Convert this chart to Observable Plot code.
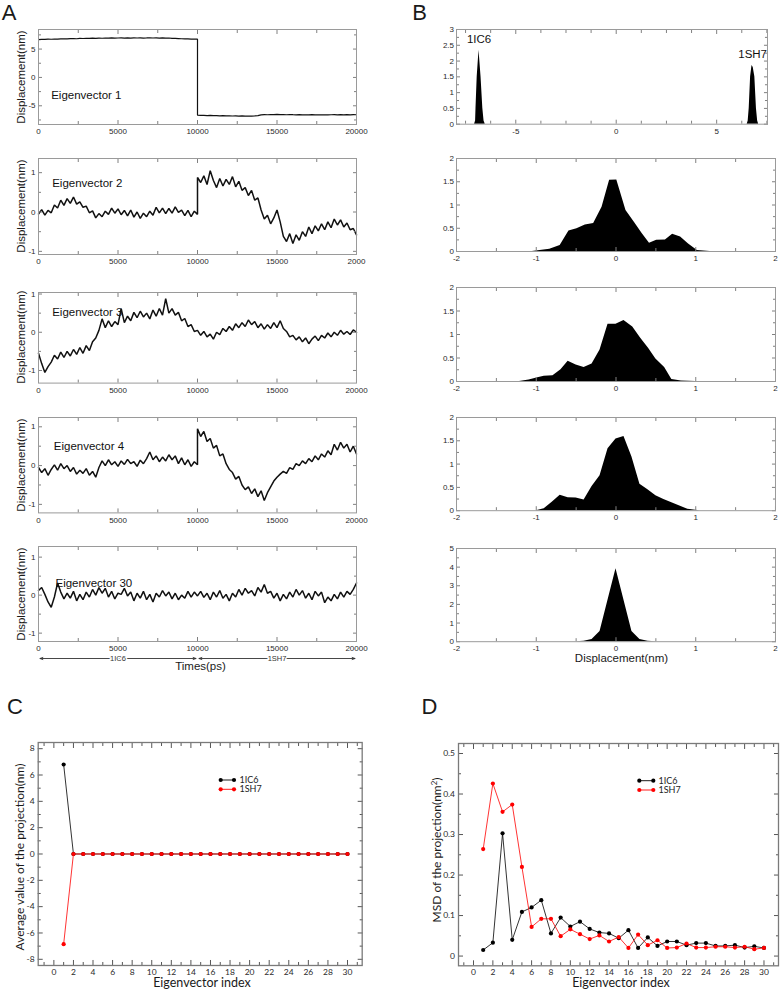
<!DOCTYPE html>
<html><head><meta charset="utf-8">
<script src="https://cdn.jsdelivr.net/npm/d3@7"></script>
<script src="https://cdn.jsdelivr.net/npm/@observablehq/plot@0.6"></script>
<style>
html,body{margin:0;padding:0;background:#fff;}
#fig{position:relative;width:781px;height:992px;overflow:hidden;background:#fff;font-family:"Liberation Sans",Arial,sans-serif;color:#1a1a1a;}
.lbl{position:absolute;white-space:nowrap;line-height:1;}
</style></head><body><div id="fig"></div>
<script>
// ---------------- DATA ----------------
// Panel A: projections on eigenvectors, sampled every 200 ps (first half 0-10000 ps = 1IC6, second half 10000-20000 ps = 1SH7)
const timesFirst = d3.range(0, 10001, 200);
const timesSecond = d3.range(10000, 20001, 200);
const eigenNames = ["Eigenvector 1", "Eigenvector 2", "Eigenvector 3", "Eigenvector 4", "Eigenvector 30"];

const ev1First = [6.68,6.72,6.70,6.74,6.73,6.77,6.76,6.80,6.82,6.79,
 6.83,6.85,6.82,6.87,6.86,6.90,6.88,6.92,6.90,6.94,
 6.91,6.95,6.93,6.96,6.92,6.95,6.97,6.93,6.96,6.94,
 6.98,6.95,6.97,6.94,6.96,6.99,6.95,6.97,6.94,6.96,
 6.93,6.95,6.90,6.88,6.85,6.82,6.80,6.78,6.76,6.77,
 6.75];
const ev1Second = [-6.66,-6.70,-6.68,-6.72,-6.70,-6.75,-6.72,-6.77,-6.74,-6.78,
 -6.76,-6.80,-6.77,-6.82,-6.79,-6.84,-6.80,-6.83,-6.78,-6.72,
 -6.60,-6.55,-6.58,-6.54,-6.57,-6.53,-6.56,-6.55,-6.58,-6.54,
 -6.57,-6.59,-6.56,-6.60,-6.58,-6.61,-6.57,-6.60,-6.58,-6.62,
 -6.59,-6.61,-6.58,-6.56,-6.59,-6.57,-6.60,-6.56,-6.59,-6.55,
 -6.58];
const ev2First = [-0.05,0.06,-0.08,0.04,-0.02,0.18,0.10,0.30,0.17,0.34,
 0.22,0.38,0.20,0.26,0.12,0.15,-0.02,0.03,-0.15,-0.04,
 -0.12,0.02,-0.06,0.10,-0.03,0.08,-0.07,0.04,-0.10,0.05,
 -0.13,0.00,-0.16,-0.03,-0.12,0.02,-0.08,0.12,-0.02,0.10,
 -0.04,0.09,-0.03,0.13,-0.01,0.05,-0.09,0.04,-0.12,0.02,
 -0.06];
const ev2Second = [0.88,0.75,0.92,0.70,1.05,0.80,0.62,0.85,0.66,0.83,
 0.70,0.90,0.64,0.78,0.55,0.62,0.42,0.55,0.30,0.36,
 0.05,-0.18,-0.08,-0.30,-0.15,0.05,-0.25,-0.62,-0.75,-0.55,
 -0.80,-0.58,-0.72,-0.50,-0.62,-0.38,-0.55,-0.35,-0.48,-0.30,
 -0.45,-0.25,-0.40,-0.18,-0.33,-0.20,-0.38,-0.28,-0.45,-0.42,
 -0.58];
const ev3First = [-0.55,-0.82,-1.05,-0.90,-0.78,-0.60,-0.70,-0.52,-0.66,-0.50,
 -0.62,-0.45,-0.58,-0.40,-0.55,-0.35,-0.48,-0.25,-0.15,0.05,
 0.35,0.12,0.30,0.15,0.28,0.20,0.62,0.25,0.42,0.30,
 0.52,0.38,0.55,0.40,0.50,0.35,0.58,0.42,0.62,0.45,
 0.88,0.50,0.62,0.45,0.52,0.30,0.36,0.15,0.20,0.02,
 0.05];
const ev3Second = [0.05,-0.08,0.02,-0.12,-0.05,-0.18,0.00,-0.06,0.10,0.02,
 0.15,0.05,0.22,0.12,0.25,0.15,0.32,0.20,0.28,0.12,
 0.22,0.08,0.20,0.10,0.25,0.12,0.30,0.10,0.02,-0.12,
 -0.08,-0.20,-0.12,-0.25,-0.15,-0.30,-0.18,-0.10,-0.22,-0.08,
 -0.15,-0.02,-0.12,0.00,-0.08,0.05,-0.05,0.02,-0.06,0.06,
 0.00];
const ev4First = [-0.05,-0.18,-0.08,-0.25,-0.10,0.02,-0.12,0.05,-0.08,0.00,
 -0.15,-0.05,-0.22,-0.12,-0.20,-0.08,-0.25,-0.15,-0.30,-0.05,
 0.12,0.00,0.15,0.02,0.10,-0.02,0.12,0.03,0.16,0.05,
 0.10,-0.02,0.14,0.05,0.18,0.35,0.15,0.25,0.10,0.22,
 0.12,0.28,0.15,0.25,0.05,0.20,0.02,0.15,-0.02,0.10,
 0.02];
const ev4Second = [0.95,0.75,0.88,0.62,0.70,0.45,0.52,0.25,0.30,0.05,
 -0.10,-0.18,-0.35,-0.28,-0.50,-0.62,-0.55,-0.72,-0.60,-0.80,
 -0.65,-0.90,-0.70,-0.55,-0.40,-0.30,-0.22,-0.15,-0.20,-0.05,
 -0.10,0.05,0.00,0.12,0.05,0.18,0.10,0.25,0.15,0.30,
 0.22,0.38,0.28,0.55,0.40,0.60,0.45,0.55,0.35,0.50,
 0.30];
const ev30First = [0.12,0.20,0.02,-0.18,-0.32,-0.05,0.32,0.08,-0.10,0.05,
 -0.08,0.10,-0.15,0.02,-0.12,0.08,-0.05,0.15,0.00,0.20,
 0.05,0.18,-0.05,0.10,-0.10,0.05,0.02,0.18,-0.02,0.08,
 -0.15,0.05,-0.08,0.10,-0.12,0.02,-0.18,0.05,-0.05,0.12,
 -0.02,0.08,-0.10,0.05,-0.12,0.00,-0.08,0.10,-0.05,0.08,
 -0.02];
const ev30Second = [-0.02,0.10,-0.06,0.05,-0.12,0.08,-0.05,0.12,-0.08,0.02,
 -0.15,0.05,-0.05,0.15,0.00,0.18,0.05,0.12,-0.02,0.20,
 0.08,0.28,0.05,0.10,-0.08,0.05,-0.15,0.02,-0.10,0.08,
 -0.05,0.15,0.00,0.12,-0.08,0.05,-0.12,0.10,-0.02,0.08,
 -0.20,-0.05,-0.15,0.02,-0.10,0.08,-0.05,0.10,0.02,0.15,
 0.32];

// Panel B: probability distributions of the projections
const hist1X = [-7.05,-7.0,-6.98,-6.92,-6.83,-6.73,-6.64,-6.58,-6.52, 6.52,6.57,6.62,6.69,6.76,6.82,6.9,6.98,7.04,7.09];
const hist1Y = [0,0.1,0.5,1.5,2.34,1.5,0.5,0.1,0, 0,0.1,0.5,1.5,1.86,1.8,1.5,0.5,0.1,0];
const hist2X = [-1.05,-0.83,-0.70,-0.59,-0.49,-0.385,-0.28,-0.175,-0.08,0.01,0.125,0.23,0.33,0.42,0.51,0.62,0.71,0.81,0.91,1.02,1.18];
const hist2Y = [0,0.05,0.13,0.44,0.49,0.57,0.6,0.95,1.53,1.54,0.88,0.63,0.38,0.18,0.24,0.25,0.37,0.31,0.16,0.02,0];
const hist3X = [-1.21,-1.09,-0.98,-0.90,-0.79,-0.69,-0.60,-0.50,-0.40,-0.30,-0.20,-0.10,0.0,0.10,0.21,0.31,0.41,0.50,0.61,0.70,0.82,1.0];
const hist3Y = [0,0.03,0.08,0.11,0.12,0.25,0.43,0.35,0.30,0.37,0.67,1.22,1.22,1.30,1.16,0.92,0.70,0.48,0.30,0.04,0.01,0];
const hist4X = [-1.0,-0.9,-0.8,-0.7,-0.6,-0.5,-0.4,-0.3,-0.2,-0.1,0,0.1,0.2,0.3,0.4,0.5,0.6,0.7,0.8,0.9,1.05];
const hist4Y = [0,0.04,0.18,0.33,0.28,0.27,0.23,0.52,0.75,1.33,1.54,1.59,1.15,0.57,0.45,0.32,0.24,0.17,0.10,0.03,0];
const hist30X = [-0.5,-0.4,-0.3,-0.2,0.0,0.2,0.3,0.4,0.5];
const hist30Y = [0,0.03,0.12,0.55,3.92,0.55,0.12,0.03,0];
const peakNames = ["1IC6", "1SH7"];
const peakX = [-6.83, 6.79];
const peakY = [2.34, 1.86];

// Panels C & D
const eigIndex = [1,2,3,4,5,6,7,8,9,10,11,12,13,14,15,16,17,18,19,20,21,22,23,24,25,26,27,28,29,30];
const seriesNames = ["1IC6", "1SH7"];
const seriesColors = ["#000000", "#ff0000"];
const avg1IC6 = [6.8,0,0,0,0,0,0,0,0,0,0,0,0,0,0,0,0,0,0,0,0,0,0,0,0,0,0,0,0,0];
const avg1SH7 = [-6.85,0,0,0,0,0,0,0,0,0,0,0,0,0,0,0,0,0,0,0,0,0,0,0,0,0,0,0,0,0];
const msd1IC6 = [0.015,0.033,0.303,0.04,0.109,0.12,0.138,0.056,0.095,0.073,0.085,0.067,0.058,0.056,0.044,0.064,0.02,0.046,0.025,0.036,0.036,0.027,0.032,0.032,0.025,0.025,0.027,0.021,0.024,0.02];
const msd1SH7 = [0.264,0.426,0.356,0.374,0.22,0.072,0.092,0.092,0.049,0.066,0.054,0.042,0.051,0.036,0.047,0.02,0.053,0.027,0.039,0.02,0.021,0.031,0.021,0.021,0.023,0.023,0.021,0.023,0.017,0.02];

// Tick values / labels
const timeMajor = [0, 5000, 10000, 15000, 20000];
const timeMinor = [2500, 7500, 12500, 17500];
const timeLabels = ["0", "5000", "10000", "15000", "20000"];
const timeLabelsClipped = ["0", "5000", "10000", "15000", "2000"];
const ev1Major = [-5, 0, 5];
const ev1Minor = [-7.5, -2.5, 2.5, 7.5];
const dispMajor = [-1, 0, 1];
const dispMinor = [-0.5, 0.5];
const b1XMajor = [-5, 0, 5];
const b1XMinor = [-7.5, -6.25, -3.75, -2.5, -1.25, 1.25, 2.5, 3.75, 6.25, 7.5];
const b1YMajor = [0, 0.5, 1, 1.5, 2, 2.5, 3];
const b1YMinor = [0.25, 0.75, 1.25, 1.75, 2.25, 2.75];
const bXMajor = [-2, -1, 0, 1, 2];
const bXMinor = [-1.5, -0.5, 0.5, 1.5];
const bYMajor = [0, 0.5, 1, 1.5, 2];
const bYMinor = [0.25, 0.75, 1.25, 1.75];
const b30YMajor = [0, 1, 2, 3, 4, 5];
const b30YMinor = [0.5, 1.5, 2.5, 3.5, 4.5];
const idxMajor = [0,2,4,6,8,10,12,14,16,18,20,22,24,26,28,30];
const idxMinor = [-1,1,3,5,7,9,11,13,15,17,19,21,23,25,27,29,31];
const cYMajor = [-8,-6,-4,-2,0,2,4,6,8];
const cYMinor = [-7,-5,-3,-1,1,3,5,7];
const dYMajor = [0, 0.1, 0.2, 0.3, 0.4, 0.5];
const dYMinor = [0.05, 0.15, 0.25, 0.35, 0.45];
const arrowSpans = [{name: "1IC6", start: 0, end: 10000}, {name: "1SH7", start: 10000, end: 20000}];

// ---------------- HELPERS ----------------
const fig = document.getElementById("fig");
const FONT_A = '"Liberation Sans", Arial, sans-serif';
const FONT_C = 'Lato, "Open Sans", sans-serif';
const blank = () => "";
const plain = d => String(d);

function label(html, x, y, size, opts = {}) {
  const d = document.createElement("div");
  d.className = "lbl";
  d.innerHTML = html;
  d.style.fontSize = size + "px";
  d.style.left = x + "px";
  d.style.top = y + "px";
  d.style.fontFamily = opts.family || FONT_A;
  d.style.color = opts.color || "#1a1a1a";
  d.style.transform = "translate(-50%,-50%)" + (opts.rotate ? ` rotate(${opts.rotate}deg)` : "");
  fig.appendChild(d);
}

function frameAxes({xMajor, xMinor, yMajor, yMinor, xLabels = xMajor, yLabels = yMajor, xFmt = plain, yFmt = plain, tickColor, major, minor, padX, padY}) {
  const t = {tickFormat: blank, label: null, stroke: tickColor};
  const marks = [
    Plot.axisX(xLabels, {anchor: "bottom", tickSize: 0, tickPadding: padX, tickFormat: xFmt, label: null}),
    Plot.axisY(yLabels, {anchor: "left", tickSize: 0, tickPadding: padY, tickFormat: yFmt, label: null})
  ];
  for (const anchor of ["bottom", "top"]) {
    marks.push(Plot.axisX(xMajor, {anchor, tickSize: -major, ...t}));
    if (xMinor.length) marks.push(Plot.axisX(xMinor, {anchor, tickSize: -minor, ...t}));
  }
  for (const anchor of ["left", "right"]) {
    marks.push(Plot.axisY(yMajor, {anchor, tickSize: -major, ...t}));
    if (yMinor.length) marks.push(Plot.axisY(yMinor, {anchor, tickSize: -minor, ...t}));
  }
  return marks;
}

function makePanel({frame, xDomain, yDomain, marks, axes, fontFamily, fontSize, frameStroke, frameWidth = 1, mL = 40, mR = 14, mT = 8, mB = 24}) {
  const [fl, ft, fw, fh] = frame;
  const svg = Plot.plot({
    width: fw + mL + mR, height: fh + mT + mB,
    marginLeft: mL, marginRight: mR, marginTop: mT, marginBottom: mB,
    x: {domain: xDomain}, y: {domain: yDomain},
    style: {fontFamily, fontSize: fontSize + "px", color: "#2a2a2a", background: "transparent", overflow: "visible"},
    marks: [...marks, ...axes, Plot.frame({stroke: frameStroke, strokeWidth: frameWidth})]
  });
  Object.assign(svg.style, {position: "absolute", left: (fl - mL) + "px", top: (ft - mT) + "px"});
  fig.appendChild(svg);
  return svg;
}

function traceRows(first, second) {
  return timesFirst.map((t, i) => ({t, v: first[i]})).concat(timesSecond.map((t, i) => ({t, v: second[i]})));
}
function xyRows(xs, ys) { return xs.map((x, i) => ({x, y: ys[i]})); }

// ---------------- PANEL A ----------------
const aLayout = [
  {first: ev1First, second: ev1Second, frame: [38, 29.3, 318, 95], y: [-8.3, 8.45], yMajor: ev1Major, yMinor: ev1Minor, lx: 12.7, ly: 66, tl: timeLabels},
  {first: ev2First, second: ev2Second, frame: [38, 158.3, 318, 96], y: [-1.08, 1.36], yMajor: dispMajor, yMinor: dispMinor, lx: 13.7, ly: 24.5, tl: timeLabelsClipped},
  {first: ev3First, second: ev3Second, frame: [38, 291.7, 318, 90.6], y: [-1.33, 1.04], yMajor: dispMajor, yMinor: dispMinor, lx: 13.7, ly: 20, tl: timeLabels},
  {first: ev4First, second: ev4Second, frame: [38, 416.9, 318, 95.4], y: [-1.22, 1.24], yMajor: dispMajor, yMinor: dispMinor, lx: 15.3, ly: 29, tl: timeLabels},
  {first: ev30First, second: ev30Second, frame: [38, 546, 318, 95], y: [-1.22, 1.28], yMajor: dispMajor, yMinor: dispMinor, lx: 17, ly: 36.7, tl: timeLabels}
];
aLayout.forEach((p, k) => {
  const rows = traceRows(p.first, p.second);
  makePanel({
    frame: p.frame, xDomain: [0, 20000], yDomain: p.y,
    fontFamily: FONT_A, fontSize: 8, frameStroke: "#9a9a9a", frameWidth: 1,
    mL: 38, mR: 24,
    marks: [
      Plot.line(rows, {x: "t", y: "v", stroke: "#111", strokeWidth: k === 0 ? 1.2 : 1.5, strokeLinejoin: "miter"}),
      Plot.text([eigenNames[k]], {frameAnchor: "top-left", dx: p.lx, dy: p.ly, text: d => d, textAnchor: "start", lineAnchor: "middle", fontSize: 11.5, fill: "#111"})
    ],
    axes: frameAxes({xMajor: timeMajor, xMinor: timeMinor, yMajor: p.yMajor, yMinor: p.yMinor,
      xFmt: d => p.tl[timeMajor.indexOf(d)], tickColor: "#808080", major: 4, minor: 3, padX: 4, padY: 3})
  });
  label("Displacement(nm)", 22, p.frame[1] + p.frame[3] / 2, 11.5, {rotate: -90});
});

// arrows under the time axis
(function () {
  const svg = Plot.plot({
    width: 318 + 38 + 24, height: 14, marginLeft: 38, marginRight: 24, marginTop: 2, marginBottom: 2,
    x: {domain: [0, 20000], axis: null}, y: {domain: [-1, 1], axis: null},
    style: {fontFamily: FONT_A, fontSize: "7.5px", background: "transparent", overflow: "visible"},
    marks: [
      Plot.arrow(arrowSpans, {x1: d => (d.start + d.end) / 2, x2: "start", y1: 0, y2: 0, stroke: "#333", strokeWidth: 0.9, headLength: 5, headAngle: 40, insetEnd: 1.5}),
      Plot.arrow(arrowSpans, {x1: d => (d.start + d.end) / 2, x2: "end", y1: 0, y2: 0, stroke: "#333", strokeWidth: 0.9, headLength: 5, headAngle: 40, insetEnd: 1.5}),
      Plot.text(arrowSpans, {x: d => (d.start + d.end) / 2, y: 0, text: "name", fill: "#333", stroke: "white", strokeWidth: 3, paintOrder: "stroke"})
    ]
  });
  Object.assign(svg.style, {position: "absolute", left: "0px", top: "651px"});
  fig.appendChild(svg);
})();
label("Times(ps)", 200.5, 667, 11.5);

// ---------------- PANEL B ----------------
const bLayout = [
  {xs: hist1X, ys: hist1Y, frame: [456, 29.3, 311, 94.7], x: [-7.95, 7.53], y: [0, 3], xMajor: b1XMajor, xMinor: b1XMinor, yMajor: b1YMajor, yMinor: b1YMinor, peaks: true},
  {xs: hist2X, ys: hist2Y, frame: [456, 158.3, 319, 93], x: [-2, 2], y: [0, 2], xMajor: bXMajor, xMinor: bXMinor, yMajor: bYMajor, yMinor: bYMinor},
  {xs: hist3X, ys: hist3Y, frame: [456, 286.7, 319, 94], x: [-2, 2], y: [0, 2], xMajor: bXMajor, xMinor: bXMinor, yMajor: bYMajor, yMinor: bYMinor},
  {xs: hist4X, ys: hist4Y, frame: [456, 416.9, 319, 93.2], x: [-2, 2], y: [0, 2], xMajor: bXMajor, xMinor: bXMinor, yMajor: bYMajor, yMinor: bYMinor},
  {xs: hist30X, ys: hist30Y, frame: [456, 548.3, 319, 93.2], x: [-2, 2], y: [0, 5], xMajor: bXMajor, xMinor: bXMinor, yMajor: b30YMajor, yMinor: b30YMinor}
];
bLayout.forEach(p => {
  const rows = xyRows(p.xs, p.ys);
  const marks = [Plot.areaY(rows, {x: "x", y: "y", fill: "#000"})];
  if (p.peaks) {
    const pk = peakNames.map((name, i) => ({name, x: peakX[i], y: peakY[i]}));
    marks.push(Plot.text(pk, {x: "x", y: "y", text: "name", dy: -7, lineAnchor: "bottom", fontSize: 11.5, fill: "#111"}));
  }
  makePanel({
    frame: p.frame, xDomain: p.x, yDomain: p.y,
    fontFamily: FONT_A, fontSize: 8, frameStroke: "#9a9a9a", frameWidth: 1,
    mL: 40, mR: 10,
    marks,
    axes: frameAxes({xMajor: p.xMajor, xMinor: p.xMinor, yMajor: p.yMajor, yMinor: p.yMinor,
      tickColor: "#808080", major: 4, minor: 3, padX: 4, padY: 2.5})
  });
});
label("Displacement(nm)", 621.5, 659, 11.5);

// ---------------- PANELS C & D ----------------
function seriesRows(vals) { return eigIndex.map((i, k) => ({i, v: vals[k]})); }
function cdMarks(a, b) {
  const ra = seriesRows(a), rb = seriesRows(b);
  return [
    Plot.line(ra, {x: "i", y: "v", stroke: seriesColors[0], strokeWidth: 0.8}),
    Plot.dot(ra, {x: "i", y: "v", fill: seriesColors[0], r: 2.1}),
    Plot.line(rb, {x: "i", y: "v", stroke: seriesColors[1], strokeWidth: 0.8}),
    Plot.dot(rb, {x: "i", y: "v", fill: seriesColors[1], r: 2.1})
  ];
}
makePanel({
  frame: [37.7, 742, 324, 223], xDomain: [-1.6, 31.5], yDomain: [-8.47, 8.47],
  fontFamily: FONT_C, fontSize: 8.5, frameStroke: "#7a7a7a", frameWidth: 1.3, mL: 37.7, mR: 12,
  marks: cdMarks(avg1IC6, avg1SH7),
  axes: frameAxes({xMajor: idxMajor, xMinor: idxMinor, yMajor: cYMajor, yMinor: cYMinor,
    tickColor: "#555", major: 5, minor: 3, padX: 3, padY: 3.5})
});
makePanel({
  frame: [458.3, 742.7, 320, 222.3], xDomain: [-1.55, 31.5], yDomain: [-0.024, 0.5247],
  fontFamily: FONT_C, fontSize: 8.5, frameStroke: "#7a7a7a", frameWidth: 1.3, mL: 40, mR: 2,
  marks: cdMarks(msd1IC6, msd1SH7),
  axes: frameAxes({xMajor: idxMajor, xMinor: idxMinor, yMajor: dYMajor, yMinor: dYMinor,
    tickColor: "#555", major: 5, minor: 3, padX: 3, padY: 3.5})
});

// legends for C and D
(function () {
  const svg = d3.create("svg").attr("width", 781).attr("height", 992)
    .style("position", "absolute").style("left", "0px").style("top", "0px").style("overflow", "visible");
  const spots = [[220.7, 234, 780, 239.5], [639.3, 653.3, 780.7, 658.5]];
  spots.forEach(([x1, x2, y0, tx]) => {
    seriesNames.forEach((name, k) => {
      const y = y0 + k * 9.3;
      svg.append("line").attr("x1", x1).attr("x2", x2).attr("y1", y).attr("y2", y)
        .attr("stroke", seriesColors[k]).attr("stroke-width", 0.9);
      [x1, x2].forEach(x => svg.append("circle").attr("cx", x).attr("cy", y).attr("r", 2.1).attr("fill", seriesColors[k]));
      svg.append("text").attr("x", tx).attr("y", y).attr("dy", "0.35em")
        .attr("font-family", FONT_C).attr("font-size", 9).attr("fill", "#222").text(name);
    });
  });
  fig.appendChild(svg.node());
})();

label("Average value of the projection(nm)", 20, 857, 12, {rotate: -90, family: FONT_C});
label("Eigenvector index", 202, 983, 12.5, {family: FONT_C});
label("MSD of the projection(nm<sup style=\"font-size:0.65em;vertical-align:0.55em;line-height:0\">2</sup>)", 437, 850, 12, {rotate: -90, family: FONT_C});
label("Eigenvector index", 621, 983, 12.5, {family: FONT_C});

// panel letters
label("A", 9, 12.5, 22);
label("B", 419.5, 12.5, 22);
label("C", 15, 707, 22);
label("D", 429.5, 707, 22);
</script></body></html>
